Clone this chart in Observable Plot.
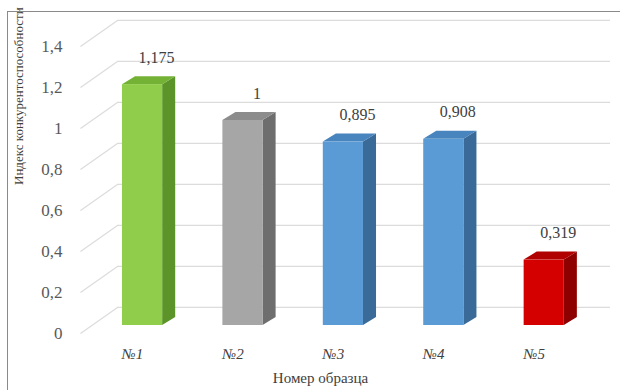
<!DOCTYPE html>
<html>
<head>
<meta charset="utf-8">
<script src="https://cdn.jsdelivr.net/npm/d3@7"></script>
<script src="https://cdn.jsdelivr.net/npm/@observablehq/plot@0.6"></script>
</head>
<body style="margin:0;padding:0;background:#ffffff">
<div id="wrap" style="position:relative;width:620px;height:390px;overflow:hidden">
  <div id="chart"></div>
  <div style="position:absolute;left:7px;top:11px;width:640px;height:400px;border-top:1.5px solid #8a8a8a;border-left:1.5px solid #8a8a8a;pointer-events:none"></div>
</div>
<script>
const categories = ["№1", "№2", "№3", "№4", "№5"];
const values = [1.175, 1, 0.895, 0.908, 0.319];
const valueLabels = ["1,175", "1", "0,895", "0,908", "0,319"];
const tickValues = [0, 0.2, 0.4, 0.6, 0.8, 1, 1.2, 1.4];
const tickLabels = ["0", "0,2", "0,4", "0,6", "0,8", "1", "1,2", "1,4"];
const frontColors = ["#8fcd4b", "#a6a6a6", "#5b9bd5", "#5b9bd5", "#d40000"];
const sideColors = ["#5c942a", "#6e6e6e", "#3a6b98", "#3a6b98", "#8e0000"];
const topColors = ["#74b236", "#8c8c8c", "#4884bd", "#4884bd", "#b00000"];
const yTitle = "Индекс конкурентоспособности";
const xTitle = "Номер образца";

// 3D geometry helpers (in data units)
const half = 0.2, depthX = 0.13, depthY = 0.039, base = 0.039, wallY = 0.127;
const xFront = -0.618, xWallL = -0.25, xWallR = 4.66;
const fontSerif = "Liberation Serif, Times New Roman, serif";

const bars = categories.map((c, i) => ({i, c, v: values[i], label: valueLabels[i]}));
const side = bars.flatMap(b => [
  {i: b.i, x: b.i + half, y1: base, y2: b.v + base},
  {i: b.i, x: b.i + half + depthX, y1: base + depthY, y2: b.v + base + depthY}
]);
const topFace = bars.flatMap(b => {
  const t = b.v + base;
  return [
    {i: b.i, x: b.i - half, y1: t, y2: t},
    {i: b.i, x: b.i - half + depthX, y1: t, y2: t + depthY},
    {i: b.i, x: b.i + half, y1: t, y2: t + depthY},
    {i: b.i, x: b.i + half + depthX, y1: t + depthY, y2: t + depthY}
  ];
});
const ticks = tickValues.map((v, k) => ({v, label: tickLabels[k]}));

const chart = Plot.plot({
  width: 620,
  height: 390,
  marginLeft: 80,
  marginRight: 10,
  marginTop: 46,
  marginBottom: 57,
  x: {domain: [xFront, xWallR], axis: null},
  y: {domain: [0, 1.4], axis: null},
  marks: [
    Plot.ruleY(ticks, {y: d => d.v + wallY, x1: xWallL, x2: xWallR, stroke: "#dcdcdc", strokeWidth: 1.2}),
    Plot.link(ticks, {x1: xFront, y1: d => d.v, x2: xWallL, y2: d => d.v + wallY, stroke: "#dcdcdc", strokeWidth: 1.2}),
    Plot.areaY(side, {x: "x", y1: "y1", y2: "y2", z: "i", fill: d => sideColors[d.i], curve: "linear"}),
    Plot.areaY(topFace, {x: "x", y1: "y1", y2: "y2", z: "i", fill: d => topColors[d.i], curve: "linear"}),
    Plot.rect(bars, {x1: d => d.i - half, x2: d => d.i + half, y1: base, y2: d => d.v + base, fill: d => frontColors[d.i]}),
    Plot.text(bars, {x: "i", y: d => d.v + base, text: "label", dx: 14, dy: -27, fontSize: 16, fontFamily: fontSerif, fill: "#404040"}),
    Plot.text(ticks, {x: xFront, y: "v", text: "label", textAnchor: "end", dx: -18, fontSize: 17, fontFamily: fontSerif, fill: "#595959"}),
    Plot.text(bars, {x: "i", y: 0, text: "c", dx: -10, dy: 21, fontSize: 15, fontStyle: "italic", fontFamily: fontSerif, fill: "#404040"}),
    Plot.text([yTitle], {frameAnchor: "left", rotate: -90, dx: -62, dy: -5, fontSize: 13, fontFamily: fontSerif, fill: "#404040"}),
    Plot.text([xTitle], {frameAnchor: "bottom", dx: -25, dy: 49, fontSize: 15, fontFamily: fontSerif, fill: "#404040"})
  ]
});
document.getElementById("chart").appendChild(chart);
</script>
</body>
</html>
